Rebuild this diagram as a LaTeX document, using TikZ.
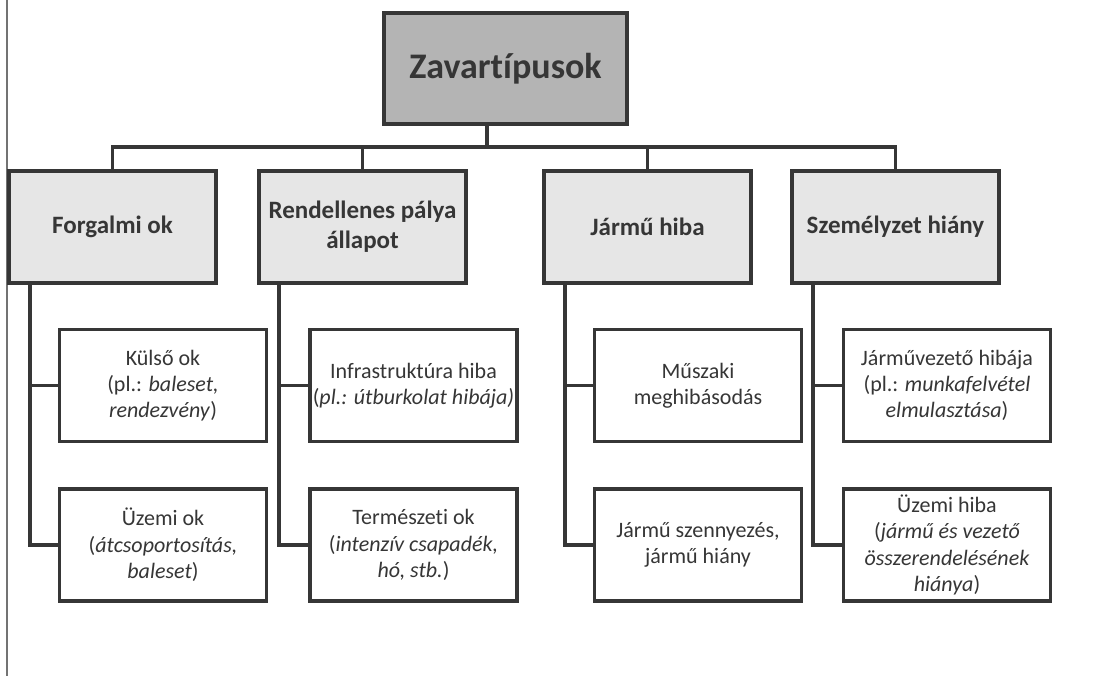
\documentclass[tikz,border=0pt]{standalone}
\usepackage{fontspec}
\setmainfont[Ligatures=NoCommon]{Carlito}
\definecolor{ink}{HTML}{363636}
\definecolor{rootfill}{HTML}{B4B4B4}
\definecolor{lvlfill}{HTML}{E6E6E6}
\begin{document}
\begin{tikzpicture}[x=1pt,y=-1pt,
  box/.style={draw=ink, line width=3.8pt, rectangle, inner sep=0pt, outer sep=0pt, align=center, text=ink},
  rootbox/.style={box, fill=rootfill, minimum width=243pt, minimum height=111pt, font=\bfseries\fontsize{36}{42}\selectfont},
  catbox/.style={box, fill=lvlfill, minimum width=207pt, minimum height=112pt, font=\bfseries\fontsize{25}{30}\selectfont},
  itembox/.style={box, fill=white, minimum width=207pt, minimum height=112pt, font=\fontsize{22}{26.3}\selectfont},
  conn/.style={draw=ink, line width=3.8pt}]
\useasboundingbox (0,0) rectangle (1103,676);
\fill[white] (0,0) rectangle (1103,676);
\draw[line width=2pt, draw=black!55] (7,0) -- (7,676);

\node[rootbox] (root) at (505.5,68.5) {Zavartípusok};

\node[catbox] (A) at (112.5,227) {Forgalmi ok};
\node[catbox] (B) at (362.5,227) {Rendellenes pálya\\állapot};
\node[catbox] (C) at (647.5,227) {Jármű hiba};
\node[catbox] (D) at (895.5,227) {Személyzet hiány};

\node[itembox] (A1) at (163,385.5) {Külső ok\\(pl.: \textit{baleset,}\\\textit{rendezvény})};
\node[itembox] (A2) at (163,545) {Üzemi ok\\(\textit{átcsoportosítás,}\\\textit{baleset})};
\node[itembox] (B1) at (413.5,385.5) {Infrastruktúra hiba\\(\textit{pl.: útburkolat hibája)}};
\node[itembox] (B2) at (413.5,545) {Természeti ok\\(\textit{intenzív csapadék,}\\\textit{hó, stb.})};
\node[itembox] (C1) at (698,385.5) {Műszaki\\meghibásodás};
\node[itembox] (C2) at (698,545) {Jármű szennyezés,\\jármű hiány};
\node[itembox] (D1) at (947,385.5) {Járművezető hibája\\(pl.: \textit{munkafelvétel}\\\textit{elmulasztása})};
\node[itembox] (D2) at (947,545) {Üzemi hiba\\(\textit{jármű és vezető}\\\textit{összerendelésének}\\\textit{hiánya})};

\coordinate (bus) at (0,147);
\coordinate (rs) at (487,0);
\coordinate (sA) at (30,0);
\coordinate (sB) at (279,0);
\coordinate (sC) at (565,0);
\coordinate (sD) at (813,0);

\draw[conn] (root.south -| rs) -- (rs |- bus);
\draw[conn] (A.north) |- (bus -| D.north) -- (D.north);
\draw[conn] (B.north) -- (B.north |- bus);
\draw[conn] (C.north) -- (C.north |- bus);

\draw[conn] (A.south -| sA) |- (A2.west);
\draw[conn] (sA |- A1.west) -- (A1.west);
\draw[conn] (B.south -| sB) |- (B2.west);
\draw[conn] (sB |- B1.west) -- (B1.west);
\draw[conn] (C.south -| sC) |- (C2.west);
\draw[conn] (sC |- C1.west) -- (C1.west);
\draw[conn] (D.south -| sD) |- (D2.west);
\draw[conn] (sD |- D1.west) -- (D1.west);
\end{tikzpicture}
\end{document}
